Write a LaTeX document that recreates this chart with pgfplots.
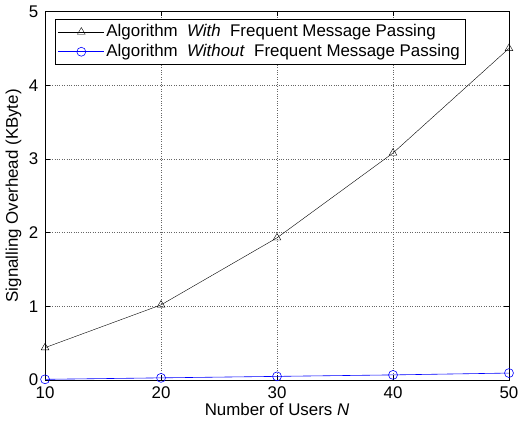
\documentclass[border=0pt]{standalone}
\usepackage{fontspec}
\setmainfont{Liberation Sans}
\usepackage{pgfplots}
\pgfplotsset{compat=1.18}
\begin{document}
\fontsize{17}{20}\selectfont
\begin{tikzpicture}
\begin{axis}[
    scale only axis,
    width=467pt, height=371pt,
    xmin=10, xmax=50, ymin=0, ymax=5,
    xtick={10,20,30,40,50}, ytick={0,1,2,3,4,5},
    tick align=inside, tick pos=both,
    major tick length=5pt,
    grid=major,
    major grid style={dotted, black!60, thin},
    axis line style={black, thin},
    tick style={black, thin},
    /pgf/number format/assume math mode=true,
    ticklabel style={font=\fontsize{17}{20}\selectfont},
    xticklabel style={yshift=-1pt},
    yticklabel style={xshift=-1pt},
    xlabel={Number of Users \textit{N}},
    ylabel={Signalling Overhead (KByte)},
    label style={font=\fontsize{17}{20}\selectfont},
    xlabel style={yshift=7pt},
    ylabel style={yshift=-4pt},
    legend style={at={(axis description cs:0,1)}, anchor=north west,
        xshift=10pt, yshift=-8pt, draw=black, thin,
        font=\fontsize{17}{20}\selectfont, row sep=1pt, inner sep=3pt},
    legend cell align=left,
    legend image code/.code={%
        \draw[mark repeat=2,mark phase=2,#1]
            plot coordinates {(0pt,0pt) (23pt,0pt) (46pt,0pt)};},
]
\addplot[black, thin, mark=triangle, mark size=4.5pt, mark options={solid, black}]
    coordinates {(10,0.44) (20,1.02) (30,1.93) (40,3.08) (50,4.50)};
\addlegendentry{Algorithm \ \textit{With} \ Frequent Message Passing}
\addplot[blue, line width=0.6pt, mark=o, mark size=4.5pt, mark options={solid, blue}]
    coordinates {(10,0.01) (20,0.03) (30,0.05) (40,0.07) (50,0.095)};
\addlegendentry{Algorithm \ \textit{Without} \ Frequent Message Passing}
\end{axis}
\end{tikzpicture}
\end{document}
